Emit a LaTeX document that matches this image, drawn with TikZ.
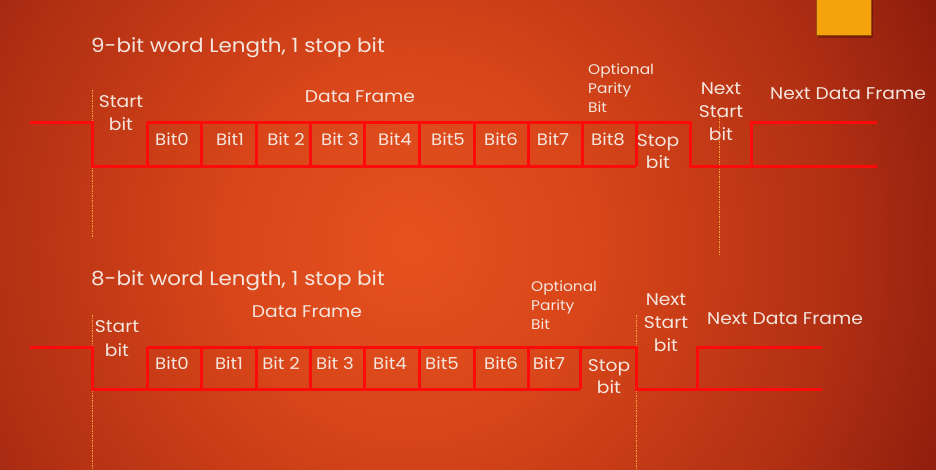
\documentclass[tikz,border=0pt]{standalone}
\usepackage{fontspec}
\setmainfont[FakeStretch=1.1]{Poppins}
\definecolor{txt}{HTML}{F4E6DE}
\definecolor{wavered}{HTML}{FF0A0A}
\definecolor{guide}{HTML}{F2A23A}
\definecolor{boxorange}{HTML}{F5A30C}
\definecolor{bgc}{HTML}{E6521F}
\definecolor{bga}{HTML}{D74519}
\definecolor{bgm}{HTML}{B02F13}
\definecolor{bge}{HTML}{7E140A}
\pgfdeclareradialshading{slidebg}{\pgfpoint{0bp}{0bp}}{color(0bp)=(bgc); color(8bp)=(bga); color(18bp)=(bgm); color(27bp)=(bge); color(50bp)=(bge)}
\begin{document}
\begin{tikzpicture}[x=1pt,y=-1pt,
  wave/.style={draw=wavered,line width=3pt,line join=miter},
  guideline/.style={draw=guide,line width=0.8pt,dash pattern=on 1.5pt off 1pt},
  lbl/.style={text=txt,font=\fontsize{17}{23}\selectfont,inner sep=0pt,align=center},
  bitlbl/.style={text=txt,font=\fontsize{16.5}{20}\selectfont,inner sep=0pt},
  title/.style={text=txt,font=\fontsize{19.5}{24}\selectfont,inner sep=0pt,anchor=west},
  small/.style={text=txt,font=\fontsize{14}{19}\selectfont,inner sep=0pt,align=left,anchor=west}]
\useasboundingbox (0,0) rectangle (936,469);
\fill[bge] (0,0) rectangle (936,469);
\begin{scope}
  \clip (0,0) rectangle (936,469);
  \shade[shading=slidebg] (-190,-355) rectangle (1010,845);
\end{scope}
% orange corner box
\fill[black,opacity=0.25] (818,0) rectangle (873,38);
\fill[boxorange] (816,-1) rectangle (871,35);
\draw[draw=orange!60!black,line width=0.6pt] (816,-1) rectangle (871,35);

% ===== top: 9-bit =====
\node[title] (t1) at (91,48) {9-bit word Length, 1 stop bit};
\draw[guideline] (92,90) -- (92,237);
\draw[guideline] (719,116) -- (719,254);
\draw[wave] (30,122) -- (92,122) -- (92,166) -- (636,166);
\draw[wave] (147,122) -- (690,122) -- (690,166) -- (877,166);
\draw[wave] (751,166) -- (751,122) -- (877,122);
\foreach \x in {147,201,256,310,364,419,474,528,582,636}
  \draw[wave] (\x,122) -- (\x,166);
\node[lbl] (st1) at (121,113) {Start\\bit};
\node[lbl] (df1) at (360,97) {Data Frame};
\node[bitlbl] (a0) at (172,139) {Bit0};
\node[bitlbl] (a1) at (230,139) {Bit1};
\node[bitlbl] (a2) at (286,139) {Bit 2};
\node[bitlbl] (a3) at (340,139) {Bit 3};
\node[bitlbl] (a4) at (395,139) {Bit4};
\node[bitlbl] (a5) at (448,139) {Bit5};
\node[bitlbl] (a6) at (501,139) {Bit6};
\node[bitlbl] (a7) at (553,139) {Bit7};
\node[bitlbl] (a8) at (608,139) {Bit8};
\node[small] (op1) at (588,88) {Optional\\Parity\\Bit};
\node[lbl,font=\fontsize{17}{22}\selectfont] (sp1) at (658,152) {Stop\\bit};
\node[lbl] (ns1) at (721,112) {Next\\Start\\bit};
\node[lbl,anchor=west] (nd1) at (770,94) {Next Data Frame};

% ===== bottom: 8-bit =====
\node[title] (t2) at (91,281) {8-bit word Length, 1 stop bit};
\draw[guideline] (92,315) -- (92,469);
\draw[guideline] (636,315) -- (636,469);
\draw[wave] (30,347) -- (92,347) -- (92,389) -- (580,389);
\draw[wave] (147,347) -- (636,347) -- (636,389) -- (822,389);
\draw[wave] (697,389) -- (697,347) -- (822,347);
\foreach \x in {147,201,256,310,364,419,474,528,580}
  \draw[wave] (\x,347) -- (\x,389);
\node[lbl,font=\fontsize{17}{24}\selectfont] (st2) at (117,339) {Start\\bit};
\node[lbl] (df2) at (307,312) {Data Frame};
\node[bitlbl] (b0) at (172,363) {Bit0};
\node[bitlbl] (b1) at (229,363) {Bit1};
\node[bitlbl] (b2) at (281,363) {Bit 2};
\node[bitlbl] (b3) at (335,363) {Bit 3};
\node[bitlbl] (b4) at (390,363) {Bit4};
\node[bitlbl] (b5) at (442,363) {Bit5};
\node[bitlbl] (b6) at (501,363) {Bit6};
\node[bitlbl] (b7) at (549,363) {Bit7};
\node[small] (op2) at (531,305) {Optional\\Parity\\Bit};
\node[lbl,font=\fontsize{17}{22}\selectfont] (sp2) at (609,377) {Stop\\bit};
\node[lbl] (ns2) at (666,323) {Next\\Start\\bit};
\node[lbl,anchor=west] (nd2) at (707,319) {Next Data Frame};
\end{tikzpicture}
\end{document}
